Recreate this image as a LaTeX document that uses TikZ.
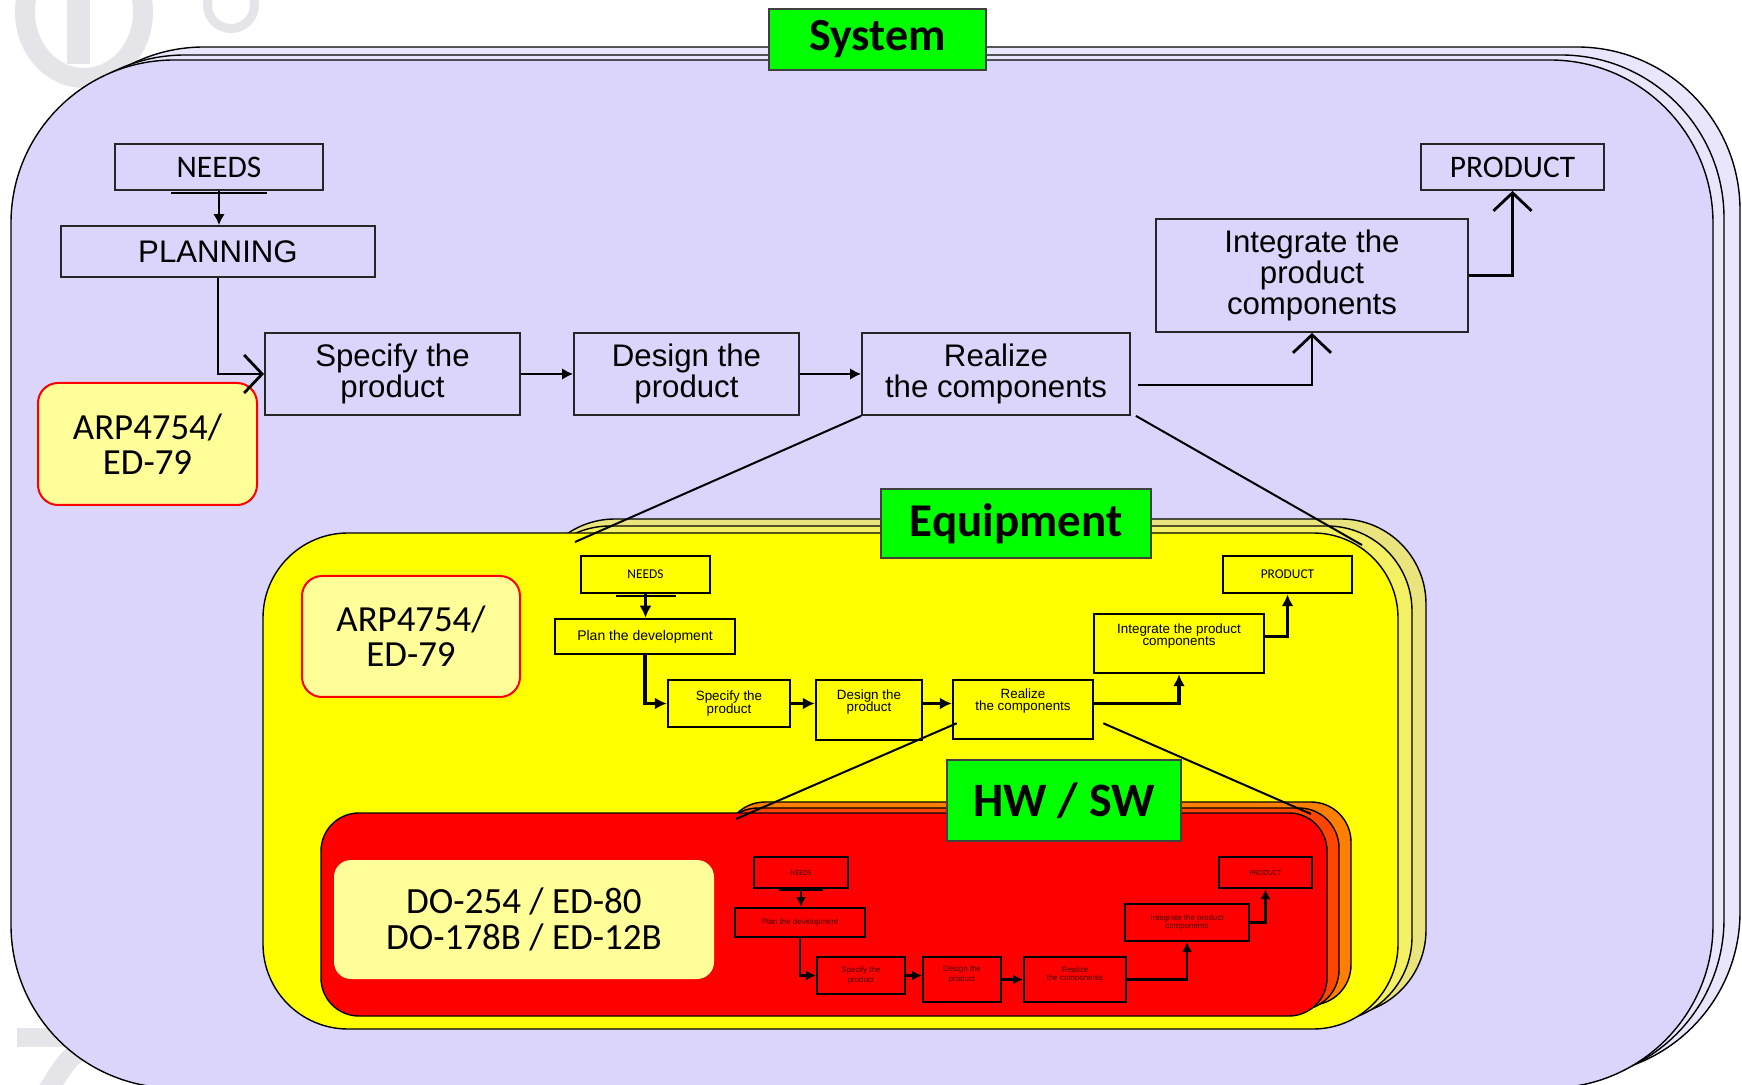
\documentclass[tikz,border=0pt]{standalone}
\usepackage{fontspec}
\setmainfont{Liberation Sans}
\newfontfamily\carl{Carlito}
\usetikzlibrary{arrows.meta,calc}
\definecolor{lav}{RGB}{219,213,252}
\definecolor{lavback}{RGB}{233,230,252}
\definecolor{ylw}{RGB}{255,255,0}
\definecolor{ylwbacktwo}{RGB}{243,240,100}
\definecolor{ylwbackthree}{RGB}{234,228,126}
\definecolor{redbacktwo}{RGB}{255,69,0}
\definecolor{redbackthree}{RGB}{255,128,0}
\definecolor{paleyel}{RGB}{255,254,153}
\definecolor{lblgreen}{RGB}{0,255,0}
\definecolor{wmgray}{RGB}{229,229,233}
\definecolor{darkred}{RGB}{70,0,0}
\begin{document}
\begin{tikzpicture}[x=0.5pt,y=-0.5pt,
  sz/.style 2 args={minimum width=#1*0.5pt, minimum height=#2*0.5pt},
  frm/.style={draw=black, line width=0.7pt},
  lbl/.style={draw=black!75, line width=1pt, fill=lblgreen, inner sep=0pt,
     font=\carl\bfseries\fontsize{23pt}{23pt}\selectfont},
  boxA/.style={draw=black!85, line width=0.9pt, fill=lav, inner sep=0pt, align=center,
     font=\fontsize{15.6pt}{15.5pt}\selectfont},
  boxAc/.style={boxA, font=\carl\fontsize{15.7pt}{15.7pt}\selectfont},
  boxB/.style={draw=black, line width=1.25pt, fill=ylw, inner sep=0pt, align=center,
     font=\fontsize{6.7pt}{6.35pt}\selectfont},
  boxBc/.style={boxB, font=\carl\fontsize{6.7pt}{6.7pt}\selectfont},
  boxC/.style={draw=black, line width=1pt, fill=red, text=darkred, inner sep=0pt, align=center,
     font=\fontsize{3.95pt}{3.65pt}\selectfont},
  boxCc/.style={boxC, font=\carl\fontsize{3.9pt}{3.9pt}\selectfont},
  arp/.style={draw=red, line width=1pt, fill=paleyel, rounded corners=10pt, inner sep=0pt,
     align=center, font=\carl\fontsize{18.4pt}{17.5pt}\selectfont},
  dobox/.style={fill=paleyel, rounded corners=8.5pt, inner sep=0pt,
     align=center, font=\carl\fontsize{18.5pt}{18.3pt}\selectfont},
  connA/.style={line width=1.4pt},
  fillA/.style={-{Latex[length=5.5pt,width=5.8pt]}},
  openA/.style={-{Straight Barb[length=9pt,width=19pt]}},
  connB/.style={line width=1.6pt, -{Latex[length=6pt,width=6pt]}},
  connC/.style={line width=1.2pt, -{Latex[length=5pt,width=5pt]}},
  zoomline/.style={line width=1pt}
]
\useasboundingbox (0,0) rectangle (1742,1085);
\fill[white] (0,0) rectangle (1742,1085);

% watermark
\draw[wmgray, line width=10pt] (84,12) ellipse [x radius=29.5pt, y radius=33pt];
\fill[wmgray] (67,0) rectangle (90,64);
\draw[wmgray, line width=4.5pt] (231,5) circle [radius=11.75pt];
\draw[wmgray, line width=9.5pt] (17,1037) -- (150,1037);
\draw[wmgray, line width=10pt] (100,1040) .. controls (70,1055) .. (45,1095);

% System frames
\filldraw[frm, fill=lavback, rounded corners=81.5pt] (41,47) rectangle (1740,1075);
\filldraw[frm, fill=lavback, rounded corners=81.5pt] (22,55) rectangle (1724,1082);
\filldraw[frm, fill=lav, rounded corners=81.5pt] (11,60) rectangle (1713,1088);
\node[lbl, sz={217}{61}] (sys) at (877.5,39.5) {System};

% Level 1
\node[boxAc, sz={208}{46}] (needsA) at (219,167) {NEEDS};
\node[boxA, sz={314}{51}] (planA) at (218,251.5) {PLANNING};
\node[boxA, sz={255}{82}] (specA) at (392.5,374) {Specify the\\product};
\node[boxA, sz={225}{82}] (designA) at (686.5,374) {Design the\\product};
\node[boxA, sz={268}{82}] (realA) at (996,374) {Realize\\the components};
\node[boxA, sz={312}{113}] (integA) at (1312,275.5) {Integrate the\\product\\components};
\node[boxAc, sz={183}{46}] (prodA) at (1512.5,167) {PRODUCT};
\node[arp, sz={219}{122}] (arpA) at (147.5,444) {ARP4754/\\ED-79};

\draw[line width=1.2pt] ($(needsA.south)+(-48,2)$) -- ($(needsA.south)+(48,2)$);
\draw[connA, fillA] (needsA.south) -- (needsA.south |- planA.north);
\draw[connA, openA] (planA.south) |- (specA.west);
\draw[connA, fillA] (specA.east) -- (designA.west);
\draw[connA, fillA] (designA.east) -- (realA.west);
\draw[connA, openA] ($(realA.east)+(7,11)$) -| (integA.south);
\draw[connA, openA] (integA.east) -| (prodA.south);

% Equipment frames
\filldraw[frm, fill=ylwbackthree, rounded corners=42.5pt] (530,519) rectangle (1426,1015);
\filldraw[frm, fill=ylwbacktwo, rounded corners=42.5pt] (525,526) rectangle (1412,1022);
\filldraw[frm, fill=ylw, rounded corners=42.5pt] (263,533) rectangle (1398,1029);

\coordinate (eqL) at (575,542);
\coordinate (eqR) at (1362,545);
\draw[zoomline] (realA.south west) -- (eqL);
\draw[zoomline] ($(realA.south east)+(5,0)$) -- (eqR);

\node[lbl, sz={270}{69}, font=\carl\bfseries\fontsize{23.5pt}{23.5pt}\selectfont] (equip) at (1016,523.5) {Equipment};

% Level 2
\node[boxBc, sz={129}{37}] (needsB) at (645.5,574.5) {NEEDS};
\node[boxB, sz={180}{35}, font=\fontsize{7pt}{7pt}\selectfont] (planB) at (645,636.5) {Plan the development};
\node[boxB, sz={122}{47}] (specB) at (729,703.5) {Specify the\\product};
\node[boxB, sz={106}{60}, text depth=9.4pt] (designB) at (869,710) {Design the\\product};
\node[boxB, sz={140}{59}, text depth=9.9pt] (realB) at (1023,709.5) {Realize\\the components};
\node[boxB, sz={170}{59}, text depth=8.9pt] (integB) at (1179,643.5) {Integrate the product\\components};
\node[boxBc, sz={129}{37}] (prodB) at (1287.5,574.5) {PRODUCT};
\node[arp, sz={218}{121}] (arpB) at (411,636.5) {ARP4754/\\ED-79};

\draw[line width=1pt] ($(needsB.south)+(-30,1.5)$) -- ($(needsB.south)+(30,1.5)$);
\draw[connB] (needsB.south) -- (needsB.south |- planB.north);
\draw[connB] (planB.south) |- (specB.west);
\draw[connB] (specB.east) -- (specB.east -| designB.west);
\draw[connB] (designB.east |- specB.east) -- (realB.west |- specB.east);
\draw[connB] (realB.east |- specB.east) -| (integB.south);
\draw[connB] ($(integB.east)+(0,-7)$) -| (prodB.south);

% HW/SW frames
\filldraw[frm, fill=redbackthree, rounded corners=20pt] (725,802) rectangle (1351,1005);
\filldraw[frm, fill=redbacktwo, rounded corners=20pt] (718,808) rectangle (1339,1010);
\filldraw[frm, fill=red, rounded corners=19pt] (321,813) rectangle (1327,1016);

\node[dobox, sz={380}{119}] (doC) at (524,919.5) {DO-254 / ED-80\\DO-178B / ED-12B};

\coordinate (hwL) at (736,819);
\coordinate (hwR) at (1311,814);
\draw[zoomline] ($(realB.south west)+(5,-17)$) -- (hwL);
\draw[zoomline] ($(realB.south east)+(9,-17)$) -- (hwR);

\node[lbl, sz={234}{81}, font=\carl\bfseries\fontsize{24pt}{24pt}\selectfont] (hwsw) at (1064,800.5) {HW / SW};

% Level 3
\node[boxCc, sz={94}{31}] (needsC) at (801,872.5) {NEEDS};
\node[boxC, sz={130}{29}] (planC) at (800,922.5) {Plan the development};
\node[boxC, sz={88}{37}] (specC) at (861,975.5) {Specify the\\product};
\node[boxC, sz={78}{45}, text depth=5.8pt] (designC) at (962,979.5) {Design the\\product};
\node[boxC, sz={102}{45}, text depth=5.8pt] (realC) at (1075,979.5) {Realize\\the components};
\node[boxC, sz={124}{37}] (integC) at (1187,922.5) {Integrate the product\\components};
\node[boxCc, sz={93}{31}] (prodC) at (1265.5,872.5) {PRODUCT};

\draw[line width=0.9pt] ($(needsC.south)+(-22,1)$) -- ($(needsC.south)+(22,1)$);
\draw[connC] (needsC.south) -- (needsC.south |- planC.north);
\draw[connC] (planC.south) |- (specC.west);
\draw[connC] (specC.east) -- (specC.east -| designC.west);
\draw[connC] (designC.east) -- (realC.west);
\draw[connC] (realC.east) -| (integC.south);
\draw[connC] (integC.east) -| (prodC.south);
\end{tikzpicture}
\end{document}
